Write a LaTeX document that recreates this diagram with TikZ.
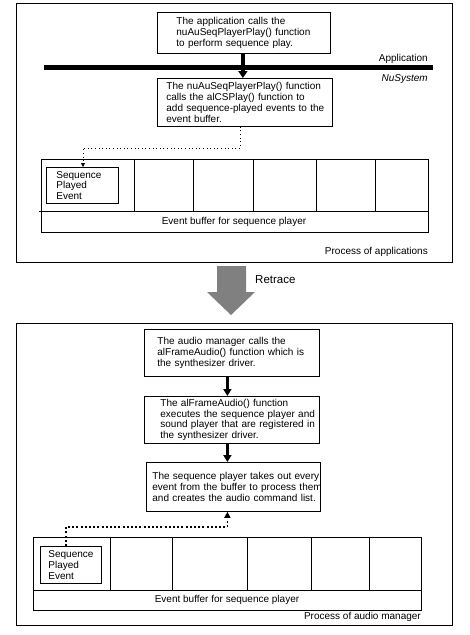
\documentclass[tikz,border=0pt]{standalone}
\usepackage{fontspec}
\setmainfont{Liberation Sans}
\usetikzlibrary{arrows.meta,calc}
\definecolor{retracegray}{RGB}{128,128,128}
\begin{document}
\begin{tikzpicture}[x=1pt,y=-1pt,
  frame/.style={draw,line width=0.8pt},
  textbox/.style={draw,line width=0.8pt,anchor=north west,align=left,inner ysep=2pt,
     font=\fontsize{10}{10.7}\selectfont},
  evbox/.style={draw,line width=0.8pt,anchor=north west,align=left,
     font=\fontsize{10}{10.7}\selectfont},
  lbl/.style={font=\fontsize{10}{11}\selectfont,inner sep=0pt},
  solidarrow/.style={line width=3.5pt,-{Triangle[width=9pt,length=7pt]}},
  thindot/.style={line width=0.8pt,dash pattern=on 1pt off 2.6pt,-{Triangle[width=4pt,length=4pt]}},
  thickdot/.style={line width=1.8pt,dash pattern=on 2pt off 2.2pt,-{Triangle[width=6pt,length=6pt]}}
]
\useasboundingbox (0,0) rectangle (470,635);
\fill[white] (0,0) rectangle (470,635);

% ---------- top panel ----------
\node[frame,anchor=north west,minimum width=436pt,minimum height=259pt,inner sep=0pt] (top) at (16,3) {};
\node[textbox,minimum height=41pt,text width=135pt,inner xsep=19pt] (b1) at (157,12)
 {\mbox{The application calls the}\\\mbox{nuAuSeqPlayerPlay() function}\\\mbox{to perform sequence play.}};
\draw[line width=5pt] (44,67) coordinate (sepL) -- (433,67) coordinate (sepR);
\node[lbl,anchor=east] (app) at (428,59) {Application};
\node[lbl,anchor=east,font=\fontsize{10}{11}\selectfont\itshape] (nus) at (428,79) {NuSystem};
\node[textbox,minimum height=48pt,text width=157pt,inner xsep=9pt] (b2) at (157,78)
 {\mbox{The nuAuSeqPlayerPlay() function}\\\mbox{calls the alCSPlay() function to}\\\mbox{add sequence-played events to the}\\\mbox{event buffer.}};
\draw[solidarrow] ([xshift=-1pt]b1.south) -- ([xshift=-1pt]b1.south |- b2.north);

% buffer 1
\node[frame,anchor=north west,minimum width=387pt,minimum height=73pt,inner sep=0pt] (buf1) at (41,159) {};
\draw[line width=0.8pt] (39,211) -- (428,211);
\foreach \xx in {134,193,253,316,375} \draw[line width=0.8pt] (\xx,159) -- (\xx,211);
\node[evbox,minimum height=36pt,text width=52pt,inner xsep=10pt] (e1) at (46,167)
 {\mbox{Sequence}\\\mbox{Played}\\\mbox{Event}};
\node[lbl] (buftxt1) at (234,222) {Event buffer for sequence player};
\node[lbl,anchor=east] (proc1) at (428,252) {Process of applications};
\coordinate (d1) at (83,148);
\draw[thindot] ([xshift=-4.5pt]b2.south) |- (d1) -- (d1 |- e1.north);

% ---------- retrace arrow ----------
\fill[retracegray] (217,266) -- (246,266) -- (246,292) -- (255,292) -- (231,315) -- (207,292) -- (217,292) -- cycle;
\node[font=\fontsize{11.5}{13}\selectfont,anchor=west,inner sep=0pt] (retrace) at (255,280) {Retrace};

% ---------- bottom panel ----------
\node[frame,anchor=north west,minimum width=436pt,minimum height=302pt,inner sep=0pt] (bot) at (16,323) {};
\node[textbox,minimum height=47pt,text width=149pt,inner xsep=13pt] (bA) at (144,329)
 {\mbox{The audio manager calls the}\\\mbox{alFrameAudio() function which is}\\\mbox{the synthesizer driver.}};
\node[textbox,minimum height=47pt,text width=143pt,inner xsep=16pt] (bB) at (144,396)
 {\mbox{The alFrameAudio() function}\\\mbox{executes the sequence player and}\\\mbox{sound player that are registered in}\\\mbox{the synthesizer driver.}};
\node[textbox,minimum height=49pt,text width=162pt,inner xsep=6pt] (bC) at (146,462)
 {\mbox{The sequence player takes out every}\\\mbox{event from the buffer to process them}\\\mbox{and creates the audio command list.}};
\draw[solidarrow,line width=2.5pt,-{Triangle[width=8pt,length=7pt]}] ([xshift=-4.5pt]bA.south) -- ([xshift=-4.5pt]bA.south |- bB.north);
\draw[solidarrow,line width=2.5pt,-{Triangle[width=8pt,length=7pt]}] ([xshift=-4.5pt]bB.south) -- ([xshift=-4.5pt]bB.south |- bC.north);

% buffer 2
\node[frame,anchor=north west,minimum width=388pt,minimum height=73pt,inner sep=0pt] (buf2) at (33,537) {};
\draw[line width=0.8pt] (33,590) -- (421,590);
\foreach \xx in {110,172,247,311,369} \draw[line width=0.8pt] (\xx,537) -- (\xx,590);
\node[evbox,minimum height=37pt,text width=45pt,inner xsep=8pt] (e2) at (40,546)
 {\mbox{Sequence}\\\mbox{Played}\\\mbox{Event}};
\node[lbl] (buftxt2) at (227,600) {Event buffer for sequence player};
\node[lbl,anchor=east] (proc2) at (421,617) {Process of audio manager};
\coordinate (d2) at (66,527);
\draw[thickdot] (d2 |- e2.north) -- (d2) -| ([xshift=-6pt]bC.south);
\end{tikzpicture}
\end{document}
